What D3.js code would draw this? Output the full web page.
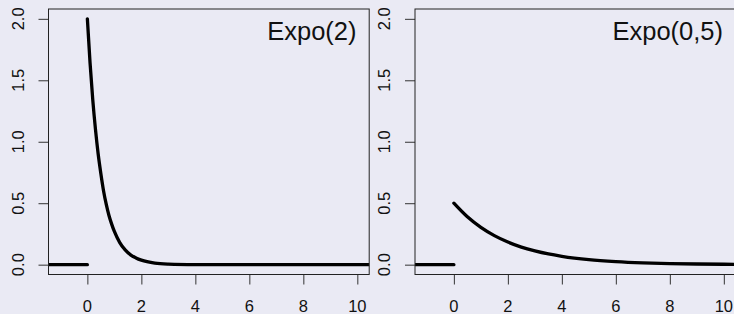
<!DOCTYPE html>
<html>
<head>
<meta charset="utf-8">
<script src="https://cdn.jsdelivr.net/npm/d3@7"></script>
<style>
  body { margin: 0; background: #EAEAF4; }
  svg { display: block; font-family: "Liberation Sans", Arial, sans-serif; }
</style>
</head>
<body>
<div id="chart"></div>
<script>
// tick values shared by both panels
var xTicks = [0, 2, 4, 6, 8, 10];
var yTicks = [0, 0.5, 1.0, 1.5, 2.0];

// density, one array per panel
var titles = ["Expo(2)", "Expo(0,5)"];
var curveX = [
  [0, 0.1, 0.2, 0.3, 0.4, 0.5, 0.6, 0.7, 0.8, 0.9, 1.0, 1.2, 1.4, 1.6, 1.8, 2.0, 2.5, 3.0, 4.0, 5.0, 10.6],
  [0, 0.5, 1.0, 1.5, 2.0, 2.5, 3.0, 3.5, 4.0, 5.0, 6.0, 7.0, 8.0, 9.0, 10.0, 10.6]
];
var curveY = [
  [2.0, 1.64, 1.34, 1.10, 0.90, 0.74, 0.60, 0.49, 0.40, 0.33, 0.27, 0.18, 0.12, 0.08, 0.055, 0.037, 0.013, 0.005, 0.0007, 0.0001, 0],
  [0.500, 0.389, 0.303, 0.236, 0.184, 0.143, 0.112, 0.087, 0.068, 0.041, 0.025, 0.015, 0.009, 0.0056, 0.0034, 0.0025]
];
// the flat part left of zero
var flatX = [-2, 0];
var flatY = [0, 0];

var svgWidth = 734, svgHeight = 314;
var panelOffset = 366.5;
var box = { left: 48.5, top: 9, right: 369.2, bottom: 274.5 };
var labelSize = 16.5;

var svg = d3.select("#chart").append("svg")
  .attr("width", svgWidth)
  .attr("height", svgHeight);

titles.forEach(function(title, i) {
  var g = svg.append("g")
    .attr("transform", `translate(${i * panelOffset}, 0)`);

  var xScale = d3.scaleLinear().domain([-1.44, 10.44]).range([box.left, box.right]);
  var yScale = d3.scaleLinear().domain([-0.08, 2.08]).range([box.bottom, box.top]);

  g.append("clipPath").attr("id", "clip" + i)
    .append("rect")
    .attr("x", box.left).attr("y", box.top)
    .attr("width", box.right - box.left).attr("height", box.bottom - box.top);

  // tick marks from the axes, labels drawn by hand below
  var xAxis = g.append("g")
    .attr("transform", `translate(0, ${box.bottom})`)
    .call(d3.axisBottom(xScale).tickValues(xTicks).tickSize(10).tickFormat(""));
  xAxis.select(".domain").remove();
  xAxis.selectAll("line").attr("stroke", "#333");

  var yAxis = g.append("g")
    .attr("transform", `translate(${box.left}, 0)`)
    .call(d3.axisLeft(yScale).tickValues(yTicks).tickSize(10).tickFormat(""));
  yAxis.select(".domain").remove();
  yAxis.selectAll("line").attr("stroke", "#333");

  g.append("g").selectAll("text")
    .data(xTicks)
    .enter()
    .append("text")
    .attr("x", d => xScale(d))
    .attr("y", 312.3)
    .attr("text-anchor", "middle")
    .style("font-size", labelSize + "px")
    .style("fill", "#111")
    .text(d => d);

  var fmt = d3.format(".1f");
  g.append("g").selectAll("text")
    .data(yTicks)
    .enter()
    .append("text")
    .attr("transform", d => `translate(${box.left - 25}, ${yScale(d)}) rotate(-90)`)
    .attr("text-anchor", "middle")
    .style("font-size", labelSize + "px")
    .style("fill", "#111")
    .text(d => fmt(d));

  var line = d3.line()
    .x(d => xScale(d[0]))
    .y(d => yScale(d[1]));

  var plot = g.append("g").attr("clip-path", `url(#clip${i})`);

  plot.append("path")
    .datum(d3.zip(flatX, flatY))
    .attr("d", line)
    .attr("fill", "none")
    .attr("stroke", "#000")
    .attr("stroke-width", 3.3)
    .attr("stroke-linecap", "round");

  plot.append("path")
    .datum(d3.zip(curveX[i], curveY[i]))
    .attr("d", line.curve(d3.curveMonotoneX))
    .attr("fill", "none")
    .attr("stroke", "#000")
    .attr("stroke-width", 3.3)
    .attr("stroke-linecap", "round");

  // plot box
  g.append("rect")
    .attr("x", box.left).attr("y", box.top)
    .attr("width", box.right - box.left).attr("height", box.bottom - box.top)
    .attr("fill", "none")
    .attr("stroke", "#222")
    .attr("stroke-width", 1);

  g.append("text")
    .attr("x", 356.5)
    .attr("y", 40)
    .attr("text-anchor", "end")
    .style("font-size", "25.5px")
    .style("fill", "#111")
    .text(title);
});
</script>
</body>
</html>
